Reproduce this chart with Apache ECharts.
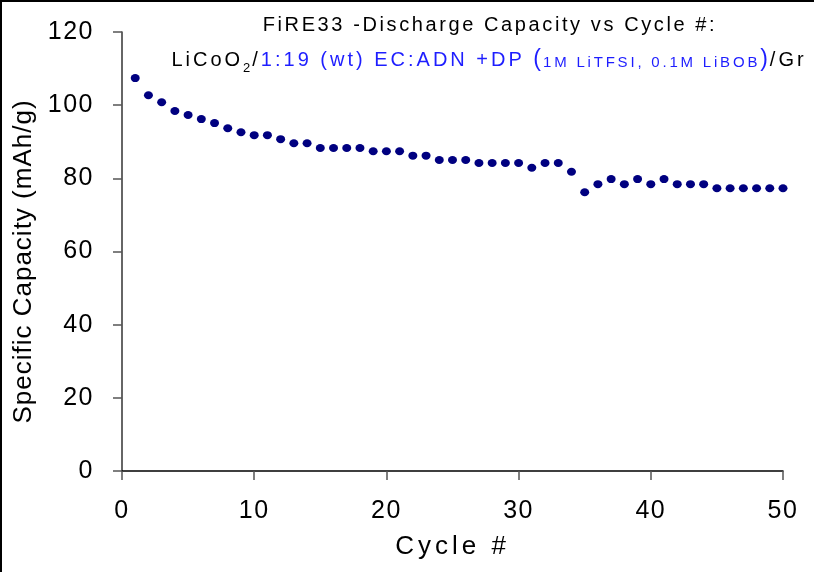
<!DOCTYPE html>
<html>
<head>
<meta charset="utf-8">
<script src="https://cdn.jsdelivr.net/npm/echarts@6/dist/echarts.min.js"></script>
<style>
html,body{margin:0;padding:0;background:#fff;}
#chart{width:814px;height:572px;}
</style>
</head>
<body>
<div id="chart"></div>
<script>
// Data
var cycles = [];
for (var i = 1; i <= 50; i++) cycles.push(i);
var capacity = [
  107.4, 102.7, 100.8, 98.4, 97.3, 96.2, 95.1, 93.7, 92.6, 91.8,
  91.8, 90.7, 89.6, 89.6, 88.3, 88.3, 88.3, 88.3, 87.4, 87.4,
  87.4, 86.2, 86.2, 85.0, 85.0, 85.0, 84.2, 84.2, 84.2, 84.2,
  82.9, 84.2, 84.2, 81.8, 76.2, 78.4, 79.8, 78.4, 79.8, 78.4,
  79.8, 78.4, 78.4, 78.4, 77.3, 77.3, 77.3, 77.3, 77.3, 77.3
];
var xTicks = [0, 10, 20, 30, 40, 50];
var yTicks = [0, 20, 40, 60, 80, 100, 120];
var titleLine1 = 'FiRE33 -Discharge Capacity vs Cycle #:';
var xName = 'Cycle #';
var yName = 'Specific Capacity (mAh/g)';

// Letter spacing support: a pseudo family name "lspN_M" in a font string sets canvas letterSpacing to N.M px
(function () {
  var proto = window.CanvasRenderingContext2D && CanvasRenderingContext2D.prototype;
  if (!proto) return;
  var desc = Object.getOwnPropertyDescriptor(proto, 'font');
  if (!desc || !desc.set || !('letterSpacing' in proto)) return;
  Object.defineProperty(proto, 'font', {
    configurable: true,
    enumerable: desc.enumerable,
    get: function () { return desc.get.call(this); },
    set: function (v) {
      desc.set.call(this, v);
      var m = /lsp(\d+)_(\d+)/.exec(v);
      this.letterSpacing = m ? (m[1] + '.' + m[2] + 'px') : '0px';
    }
  });
})();
function fam(sp) { return 'lsp' + String(sp).replace('.', '_') + (String(sp).indexOf('.') < 0 ? '_0' : '') + ', "Liberation Sans", Arial, sans-serif'; }

var points = cycles.map(function (c, i) { return [c, capacity[i]]; });

var chart = echarts.init(document.getElementById('chart'), null, {renderer: 'canvas'});
var BLUE = '#1e1eff';
var option = {
  animation: false,
  backgroundColor: '#ffffff',
  grid: {left: 122, right: 31, top: 32, bottom: 101, containLabel: false},
  xAxis: {
    type: 'value', min: 0, max: 50, interval: 10,
    name: xName, nameLocation: 'middle', nameGap: 61,
    nameTextStyle: {fontFamily: fam(4), fontSize: 26, color: '#000'},
    axisLine: {show: true, lineStyle: {color: '#000', width: 1.5}},
    axisTick: {show: true, inside: false, length: 9, lineStyle: {color: '#555', width: 1.5}},
    axisLabel: {fontFamily: fam(1.5), fontSize: 25, color: '#000', margin: 27},
    splitLine: {show: false}
  },
  yAxis: {
    type: 'value', min: 0, max: 120, interval: 20,
    name: yName, nameLocation: 'middle', nameGap: 80, nameRotate: 90,
    nameTextStyle: {fontFamily: fam(1), fontSize: 26, color: '#000', padding: [0, 20, 0, 0]},
    axisLine: {show: true, lineStyle: {color: '#333', width: 1.5}},
    axisTick: {show: true, inside: false, length: 9, lineStyle: {color: '#555', width: 1.5}},
    axisLabel: {fontFamily: fam(1.5), fontSize: 25, color: '#000', margin: 28},
    splitLine: {show: false}
  },
  series: [{
    type: 'scatter',
    data: points,
    symbol: 'circle',
    symbolSize: [9, 8],
    itemStyle: {color: '#000080', opacity: 1}
  }],
  graphic: [
    {type: 'rect', shape: {x: 1, y: 1, width: 900, height: 700}, style: {fill: null, stroke: '#000', lineWidth: 2}, silent: true, z: 100},
    {type: 'text', x: 490, y: 14, style: {text: titleLine1, align: 'center', verticalAlign: 'top', font: '20px ' + fam(2.6), fill: '#000'}},
    {type: 'text', x: 489, y: 48, style: {
      text: '{k|LiCoO}{s|2}{k|/}{b|1:19 (wt) EC:ADN +DP }{p|(}{bs|1M LiTFSI, 0.1M LiBOB}{p|)}{k|/Gr}',
      align: 'center', verticalAlign: 'top',
      rich: {
        k: {fontFamily: fam(3), fontSize: 20, fill: '#000', verticalAlign: 'bottom', lineHeight: 24},
        s: {fontFamily: fam(2), fontSize: 13, fill: '#000', verticalAlign: 'bottom', lineHeight: 24, padding: [0, 0, -4, 0]},
        b: {fontFamily: fam(3), fontSize: 20, fill: BLUE, verticalAlign: 'bottom', lineHeight: 24},
        p: {fontFamily: fam(2), fontSize: 23, fill: BLUE, verticalAlign: 'bottom', lineHeight: 24},
        bs: {fontFamily: fam(2.8), fontSize: 15, fill: BLUE, verticalAlign: 'bottom', lineHeight: 24}
      }
    }}
  ]
};
chart.setOption(option);
</script>
</body>
</html>
